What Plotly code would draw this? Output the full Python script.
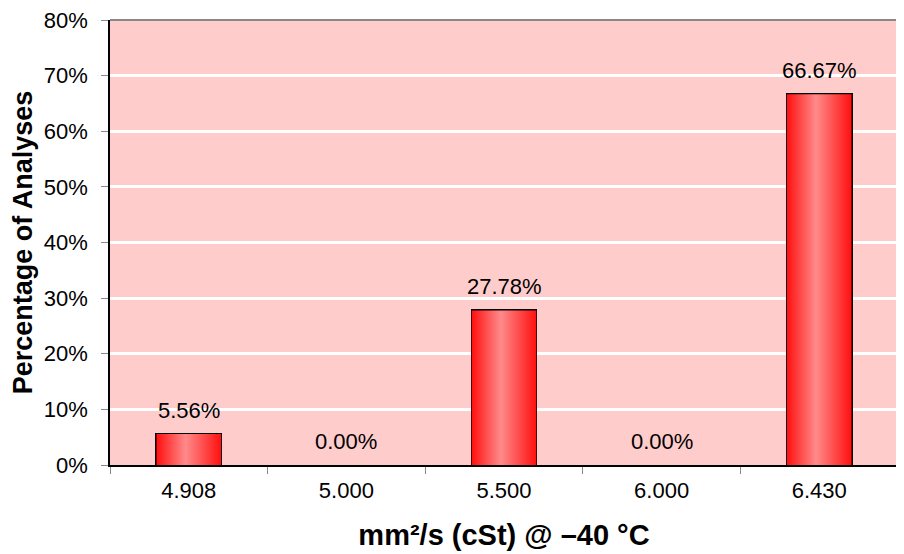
import plotly.graph_objects as go

categories = ["4.908", "5.000", "5.500", "6.000", "6.430"]
percentages = [5.56, 0.00, 27.78, 0.00, 66.67]
y_ticks = [0, 10, 20, 30, 40, 50, 60, 70, 80]

FONT = "Liberation Sans, Arial, sans-serif"
BAR_W = 0.41
idx = list(range(len(categories)))

fig = go.Figure()

# gradient interiors
for i, v in zip(idx, percentages):
    if v <= 0:
        continue
    x0, x1 = i - BAR_W / 2, i + BAR_W / 2
    fig.add_trace(go.Scatter(
        x=[x0, x1, x1, x0, x0], y=[0, 0, v, v, 0],
        mode="lines", line=dict(width=0), fill="toself",
        fillgradient=dict(type="horizontal",
                          colorscale=[[0, "#FF1010"], [0.45, "#FF8A8A"], [1, "#FF1010"]]),
        hoverinfo="skip", showlegend=False))

# bar outlines
fig.add_trace(go.Bar(
    x=idx, y=percentages, width=BAR_W,
    marker=dict(color="rgba(0,0,0,0)",
                line=dict(color="black", width=[2 if v > 0 else 0 for v in percentages])),
    showlegend=False))

for i, v in zip(idx, percentages):
    fig.add_annotation(x=i, y=v, text=f"{v:.2f}%", showarrow=False,
                       yshift=24, font=dict(family=FONT, size=22, color="black"))

# top and right border of plot area (grey)
fig.add_shape(type="line", xref="paper", yref="paper", x0=0, x1=1, y0=1, y1=1,
              line=dict(color="#888888", width=2), layer="above")
fig.add_shape(type="line", xref="paper", yref="paper", x0=1, x1=1, y0=0, y1=1,
              line=dict(color="#888888", width=2), layer="above")

fig.update_layout(
    width=904, height=554,
    margin=dict(l=102, r=14, t=12, b=97),
    paper_bgcolor="white", plot_bgcolor="#FFCCCC",
    font=dict(family=FONT, size=22, color="black"),
    bargap=0,
    xaxis=dict(
        automargin=False,
        range=[-0.5, len(categories) - 0.5],
        tickvals=idx, ticktext=categories, ticks="",
        showgrid=False, zeroline=False,
        showline=True, linecolor="black", linewidth=1.5,
        minor=dict(tickvals=[k - 0.5 for k in range(len(categories) + 1)],
                   ticks="outside", ticklen=7, tickcolor="#888888", showgrid=False),
        tickfont=dict(size=22),
        ticklabelstandoff=5,
        title=dict(text="<b>mm\u00b2/s (cSt) @ \u201340 \u00b0C</b>",
                   font=dict(size=29), standoff=23),
    ),
    yaxis=dict(
        automargin=False,
        range=[0, 80], tickvals=y_ticks, ticktext=[f"{t}%" for t in y_ticks],
        ticks="outside", ticklen=7, tickcolor="#888888",
        ticklabeloverflow="allow",
        showgrid=True, gridcolor="white", gridwidth=3,
        zeroline=False,
        showline=True, linecolor="black", linewidth=1.5,
        tickfont=dict(size=22),
        ticklabelstandoff=9,
        title=dict(text="<b>Percentage of Analyses</b>", font=dict(size=27), standoff=28),
    ),
)

fig.write_html("out.html")
